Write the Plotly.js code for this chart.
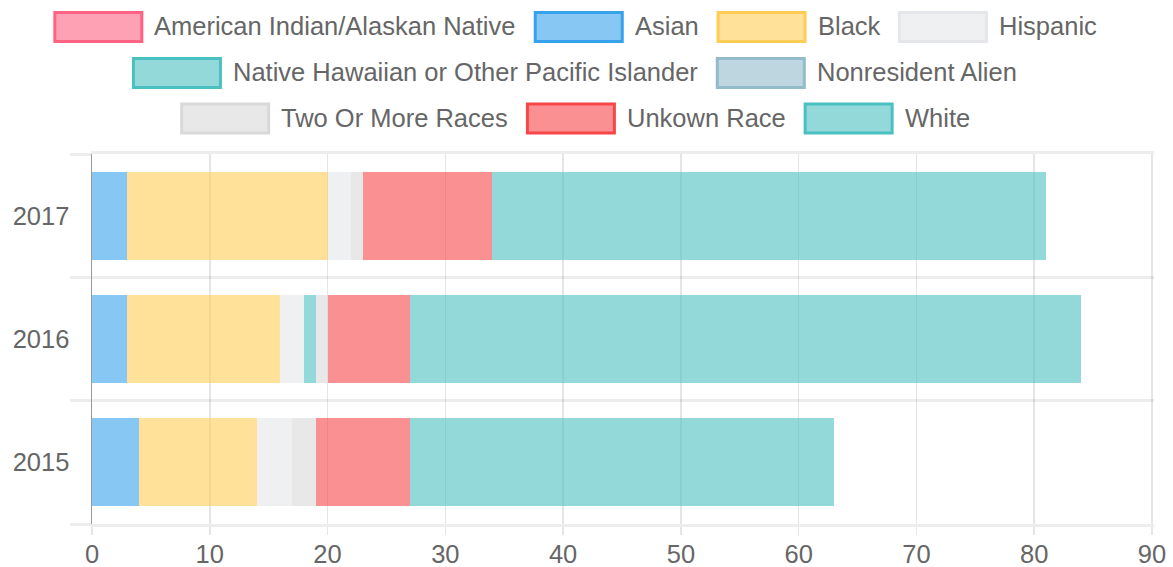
<!DOCTYPE html>
<html>
<head>
<meta charset="utf-8">
<script src="https://cdn.plot.ly/plotly-3.0.1.min.js"></script>
<style>
  html, body { margin: 0; padding: 0; background: #fff; }
  #chart { width: 1173px; height: 567px; }
</style>
</head>
<body>
<div id="chart"></div>
<script>
// ---- data ----
const years = ['2015', '2016', '2017'];
const seriesNames = [
  'American Indian/Alaskan Native', 'Asian', 'Black', 'Hispanic',
  'Native Hawaiian or Other Pacific Islander', 'Nonresident Alien',
  'Two Or More Races', 'Unkown Race', 'White'
];
const americanIndian = [0, 0, 0];
const asian          = [4, 3, 3];
const black          = [10, 13, 17];
const hispanic       = [3, 2, 2];
const nativeHawaiian = [0, 1, 0];
const nonresident    = [0, 0, 0];
const twoOrMore      = [2, 1, 1];
const unknownRace    = [8, 7, 11];
const white          = [36, 57, 47];
const xTicks = [0, 10, 20, 30, 40, 50, 60, 70, 80, 90];

// ---- styles ----
const seriesValues = [americanIndian, asian, black, hispanic, nativeHawaiian,
                      nonresident, twoOrMore, unknownRace, white];
const baseColors = [
  [255, 99, 132], [54, 162, 235], [255, 205, 86], [228, 230, 233],
  [75, 192, 192], [147, 187, 203], [217, 217, 217], [247, 70, 74], [75, 192, 192]
];
const fillOf = c => `rgba(${c[0]},${c[1]},${c[2]},0.6)`;
const lineOf = c => `rgb(${c[0]},${c[1]},${c[2]})`;

const FONT = 'Liberation Sans, Arial, sans-serif';
const FS = 25.5;
const TXT = '#666666';
const W = 1173, H = 567;
const M = { l: 92, r: 19, t: 154, b: 43 };
const PW = W - M.l - M.r, PH = H - M.t - M.b;

const traces = seriesNames.map((name, i) => ({
  type: 'bar',
  orientation: 'h',
  name: name,
  y: years,
  x: seriesValues[i],
  marker: { color: fillOf(baseColors[i]), line: { width: 0 } },
  showlegend: false,
  hoverinfo: 'x+name'
}));

// ---- custom legend (Chart.js style boxes) ----
const canvas = document.createElement('canvas');
const ctx = canvas.getContext('2d');
ctx.font = FS + 'px "Liberation Sans"';
const boxW = 87, boxH = 29, boxGap = 11, itemGap = 18, maxRow = 1150;
const rowCenters = [27, 73, 118.5];
const centerX = 575;
const items = seriesNames.map((n, i) => ({ i, n, w: boxW + 3 + boxGap + ctx.measureText(n).width }));
const rows = [[]];
let cur = 0;
items.forEach(it => {
  const add = (rows[rows.length - 1].length ? itemGap : 0) + it.w;
  if (cur + add > maxRow && rows[rows.length - 1].length) { rows.push([]); cur = 0; }
  cur += (rows[rows.length - 1].length ? itemGap : 0) + it.w;
  rows[rows.length - 1].push(it);
});
const px2x = px => (px - M.l) / PW;
const px2y = py => (H - M.b - py) / PH;
const shapes = [], annotations = [];
rows.forEach((row, r) => {
  const total = row.reduce((s, it) => s + it.w, 0) + itemGap * (row.length - 1);
  let x = centerX - total / 2;
  const cy = rowCenters[r];
  row.forEach(it => {
    const c = baseColors[it.i];
    shapes.push({
      type: 'rect', xref: 'paper', yref: 'paper',
      x0: px2x(x + 1.5), x1: px2x(x + 1.5 + boxW),
      y0: px2y(cy + boxH / 2), y1: px2y(cy - boxH / 2),
      fillcolor: fillOf(c), line: { color: lineOf(c), width: 3 }, layer: 'above'
    });
    annotations.push({
      xref: 'paper', yref: 'paper', x: px2x(x + boxW + 3 + boxGap - 1), y: px2y(cy - 1),
      xanchor: 'left', yanchor: 'middle', showarrow: false, text: it.n,
      font: { family: FONT, size: FS, color: TXT }, borderpad: 0
    });
    x += it.w + itemGap;
  });
});

const layout = {
  width: W, height: H,
  margin: M,
  paper_bgcolor: '#ffffff', plot_bgcolor: '#ffffff',
  barmode: 'stack',
  bargap: 0.285,
  showlegend: false,
  font: { family: FONT, size: FS, color: TXT },
  xaxis: {
    range: [0, 90.17], tickvals: xTicks, ticktext: xTicks.map(String),
    showgrid: true, gridcolor: 'rgba(0,0,0,0.1)', gridwidth: 1.5,
    zeroline: false, showline: true, mirror: true,
    linecolor: 'rgba(0,0,0,0.07)', linewidth: 3,
    ticks: 'outside', ticklen: 8, tickcolor: 'rgba(0,0,0,0.1)', tickwidth: 1.5,
    ticklabelstandoff: -3,
    tickfont: { family: FONT, size: FS, color: TXT }
  },
  yaxis: {
    type: 'category', categoryorder: 'array', categoryarray: years,
    range: [-0.5, 2.5], tickson: 'boundaries',
    showgrid: true, gridcolor: 'rgba(0,0,0,0.07)', gridwidth: 3,
    ticks: 'outside', ticklen: 21, tickcolor: 'rgba(0,0,0,0.07)', tickwidth: 3,
    ticklabelstandoff: 16,
    showline: true, linecolor: 'rgba(0,0,0,0.4)', linewidth: 1.5,
    zeroline: false,
    tickfont: { family: FONT, size: FS, color: TXT }
  },
  shapes: shapes,
  annotations: annotations
};

Plotly.newPlot('chart', traces, layout, { displayModeBar: false, staticPlot: true });
</script>
</body>
</html>
